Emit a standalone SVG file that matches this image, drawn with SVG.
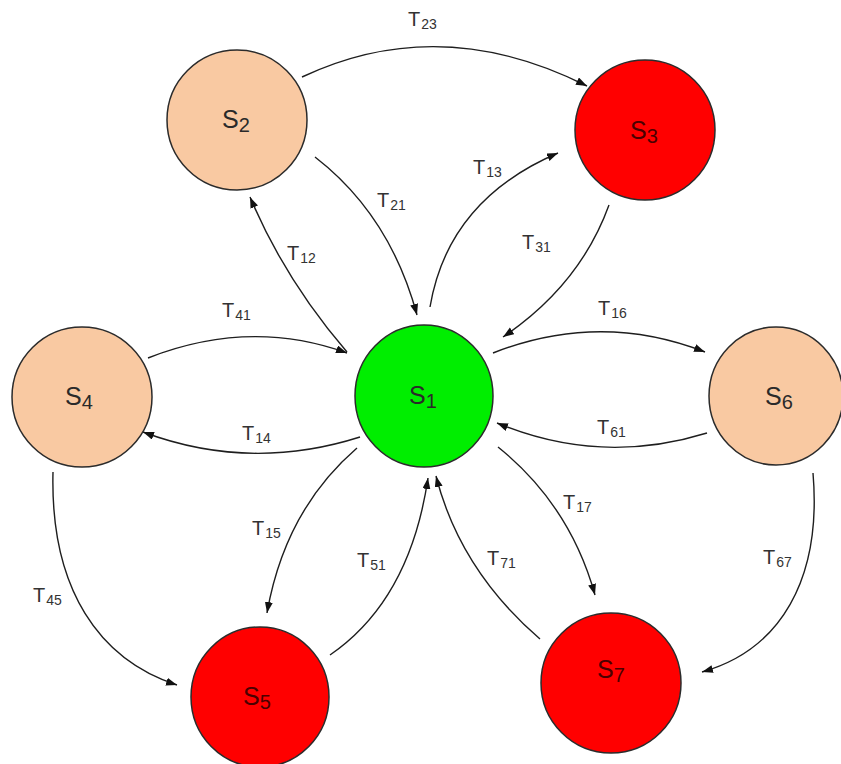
<svg xmlns="http://www.w3.org/2000/svg" width="841" height="764" viewBox="0 0 841 764">
<style>
.node{stroke:#2b2b2b;stroke-width:1.5}
.peach{fill:#F9C9A2}
.red{fill:#FF0000}
.green{fill:#00EE00}
.sl{font-family:"Liberation Sans",Arial,sans-serif;font-size:25px;fill:#2a2a2a}
.dk{fill:#4a0000}
.tl{font-family:"Liberation Sans",Arial,sans-serif;font-size:20px;fill:#333}
.sub{font-size:14px}
.ssub{font-size:20px}
.edge{fill:none;stroke:#1e1e1e;stroke-width:1.4;marker-end:url(#arr)}
</style>
<defs>
<marker id="arr" markerUnits="userSpaceOnUse" markerWidth="12" markerHeight="10" refX="11" refY="4" orient="auto">
<path d="M0,0 L11,4 L0,8 Z" fill="#111"/>
</marker>
</defs>
<g id="connectors">
<path class="edge" d="M302,77 Q440,12 587,86"/>
<path class="edge" d="M315,157 Q390,215 417,315"/>
<path class="edge" d="M347,352 Q285,280 250,197"/>
<path class="edge" d="M430,307 Q448,200 558,153"/>
<path class="edge" d="M609,205 Q580,285 503,337"/>
<path class="edge" d="M148,358 Q250,318 347,353"/>
<path class="edge" d="M360,437 Q250,472 143,432"/>
<path class="edge" d="M493,353 Q600,311 705,352"/>
<path class="edge" d="M707,433 Q600,466 497,423"/>
<path class="edge" d="M357,448 Q285,510 267,613"/>
<path class="edge" d="M330,655 Q410,600 428,478"/>
<path class="edge" d="M540,639 Q460,570 436,476"/>
<path class="edge" d="M498,447 Q570,505 595,595"/>
<path class="edge" d="M53,472 C50,590 100,660 177,685"/>
<path class="edge" d="M813,473 C822,580 780,650 702,672"/>
</g>
<g id="labels">
<text class="tl" x="408" y="26">T<tspan class="sub" dx="1" dy="3">23</tspan></text>
<text class="tl" x="377" y="207">T<tspan class="sub" dx="1" dy="3">21</tspan></text>
<text class="tl" x="287" y="260">T<tspan class="sub" dx="1" dy="3">12</tspan></text>
<text class="tl" x="473" y="174">T<tspan class="sub" dx="1" dy="3">13</tspan></text>
<text class="tl" x="522" y="249">T<tspan class="sub" dx="1" dy="3">31</tspan></text>
<text class="tl" x="222" y="317">T<tspan class="sub" dx="1" dy="3">41</tspan></text>
<text class="tl" x="242" y="440">T<tspan class="sub" dx="1" dy="3">14</tspan></text>
<text class="tl" x="598" y="315">T<tspan class="sub" dx="1" dy="3">16</tspan></text>
<text class="tl" x="597" y="434">T<tspan class="sub" dx="1" dy="3">61</tspan></text>
<text class="tl" x="252" y="535">T<tspan class="sub" dx="1" dy="3">15</tspan></text>
<text class="tl" x="357" y="567">T<tspan class="sub" dx="1" dy="3">51</tspan></text>
<text class="tl" x="487" y="565">T<tspan class="sub" dx="1" dy="3">71</tspan></text>
<text class="tl" x="563" y="509">T<tspan class="sub" dx="1" dy="3">17</tspan></text>
<text class="tl" x="33" y="602">T<tspan class="sub" dx="1" dy="3">45</tspan></text>
<text class="tl" x="763" y="564">T<tspan class="sub" dx="1" dy="3">67</tspan></text>
</g>
<g id="S1"><ellipse class="node green" cx="424" cy="396" rx="69" ry="71"/><text class="sl" x="409" y="404">S<tspan class="ssub" dy="4">1</tspan></text></g>
<g id="S2"><ellipse class="node peach" cx="237" cy="120" rx="70" ry="70"/><text class="sl" x="222" y="128">S<tspan class="ssub" dy="4">2</tspan></text></g>
<g id="S3"><ellipse class="node red" cx="645" cy="130" rx="70" ry="70"/><text class="sl dk" x="630" y="139">S<tspan class="ssub" dy="4">3</tspan></text></g>
<g id="S4"><ellipse class="node peach" cx="82" cy="397" rx="70" ry="70"/><text class="sl" x="65" y="405">S<tspan class="ssub" dy="4">4</tspan></text></g>
<g id="S5"><ellipse class="node red" cx="260" cy="697" rx="69" ry="70"/><text class="sl dk" x="243" y="705">S<tspan class="ssub" dy="4">5</tspan></text></g>
<g id="S6"><ellipse class="node peach" cx="776" cy="396" rx="67" ry="69"/><text class="sl" x="765" y="405">S<tspan class="ssub" dy="4">6</tspan></text></g>
<g id="S7"><ellipse class="node red" cx="611" cy="683" rx="70" ry="70"/><text class="sl dk" x="597" y="678">S<tspan class="ssub" dy="4">7</tspan></text></g>
</svg>
